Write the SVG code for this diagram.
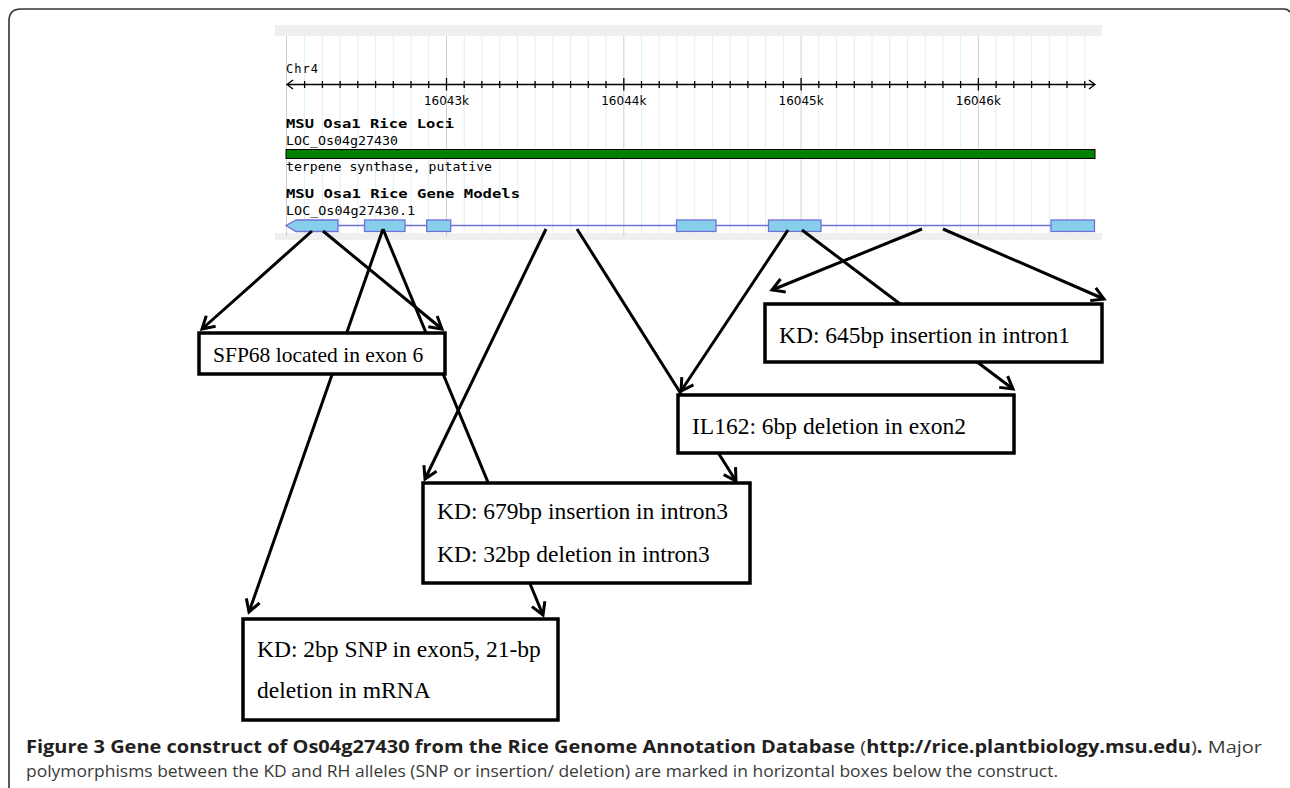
<svg xmlns="http://www.w3.org/2000/svg" width="1290" height="788" viewBox="0 0 1290 788">
<style>
.mono{font-family:"DejaVu Sans Mono","Liberation Mono",monospace;font-size:12px;fill:#000}
.monob{font-family:"DejaVu Sans Mono","Liberation Mono",monospace;font-size:12px;font-weight:bold;fill:#000}
.tick{font-family:"DejaVu Sans","Liberation Sans",sans-serif;font-size:12px;fill:#000}
.minor{stroke:#d8f1f8;stroke-width:1;fill:none}
.major{stroke:#cfcfcf;stroke-width:1;fill:none}
.conn{stroke:#000;stroke-width:3;fill:none}
.box{fill:#fff;stroke:#000;stroke-width:3.5}
.lbl{font-family:"Liberation Serif","Times New Roman",serif;font-size:23.5px;fill:#000}
.cap{font-family:"Open Sans","Liberation Sans",sans-serif;font-size:17px;fill:#3a3a3a}
.capb{font-weight:bold;fill:#231f20}
.exon{fill:#87ceeb;stroke:#7070d8;stroke-width:1.3}
</style>
<defs>
<marker id="arr" markerUnits="userSpaceOnUse" viewBox="-16 -10 20 20" markerWidth="20" markerHeight="20" refX="0" refY="0" orient="auto" overflow="visible">
<path d="M-12,-7 L0,0 L-12,7" fill="none" stroke="#000" stroke-width="3"/>
</marker>
</defs>
<!-- outer frame -->
<path d="M9 788 V21 Q9 9 21 9 H1284 Q1288 9 1290 12" fill="none" stroke="#333" stroke-width="1.6"/>
<!-- genome browser panel -->
<g id="browser">
<rect x="275" y="25" width="827" height="215" fill="#fff"/>
<rect x="275" y="25" width="827" height="11" fill="#efefef"/>
<rect x="275" y="233" width="827" height="7" fill="#efefef"/>
<path class="minor" d="M304.6 36V233M322.4 36V233M340.1 36V233M357.8 36V233M375.6 36V233M393.3 36V233M411 36V233M428.7 36V233M464.2 36V233M481.9 36V233M499.7 36V233M517.4 36V233M535.1 36V233M552.9 36V233M570.6 36V233M588.3 36V233M606 36V233M641.5 36V233M659.2 36V233M677 36V233M694.7 36V233M712.4 36V233M730.2 36V233M747.9 36V233M765.6 36V233M783.3 36V233M818.8 36V233M836.5 36V233M854.3 36V233M872 36V233M889.7 36V233M907.5 36V233M925.2 36V233M942.9 36V233M960.6 36V233M996.1 36V233M1013.8 36V233M1031.6 36V233M1049.3 36V233M1067 36V233M1084.8 36V233"/>
<path class="major" d="M286.5 36V236M446.5 36V236M623.8 36V236M801.1 36V236M978.4 36V236"/>
<!-- axis -->
<path d="M287 84.5H1095M293 80L287 84.5L293 89M1089 80L1095 84.5L1089 89" stroke="#000" stroke-width="1.3" fill="none"/>
<path stroke="#000" stroke-width="1.3" fill="none" d="M304.6 81V88M322.4 81V88M340.1 81V88M357.8 81V88M375.6 81V88M393.3 81V88M411 81V88M428.7 81V88M464.2 81V88M481.9 81V88M499.7 81V88M517.4 81V88M535.1 81V88M552.9 81V88M570.6 81V88M588.3 81V88M606 81V88M641.5 81V88M659.2 81V88M677 81V88M694.7 81V88M712.4 81V88M730.2 81V88M747.9 81V88M765.6 81V88M783.3 81V88M818.8 81V88M836.5 81V88M854.3 81V88M872 81V88M889.7 81V88M907.5 81V88M925.2 81V88M942.9 81V88M960.6 81V88M996.1 81V88M1013.8 81V88M1031.6 81V88M1049.3 81V88M1067 81V88M1084.8 81V88M446.5 78V90.5M623.8 78V90.5M801.1 78V90.5M978.4 78V90.5"/>
<text class="mono" x="286" y="73" textLength="32">Chr4</text>
<text class="tick" x="446.5" y="104.5" text-anchor="middle">16043k</text>
<text class="tick" x="623.8" y="104.5" text-anchor="middle">16044k</text>
<text class="tick" x="801.1" y="104.5" text-anchor="middle">16045k</text>
<text class="tick" x="978.4" y="104.5" text-anchor="middle">16046k</text>
<text class="monob" x="286" y="128" textLength="168" lengthAdjust="spacingAndGlyphs">MSU Osa1 Rice Loci</text>
<text class="mono" x="286" y="145" textLength="112" lengthAdjust="spacingAndGlyphs">LOC_Os04g27430</text>
<rect x="286" y="149.5" width="809" height="9" fill="#008000" stroke="#000" stroke-width="1"/>
<text class="mono" x="286" y="170.5" textLength="206" lengthAdjust="spacingAndGlyphs">terpene synthase, putative</text>
<text class="monob" x="286" y="198" textLength="234" lengthAdjust="spacingAndGlyphs">MSU Osa1 Rice Gene Models</text>
<text class="mono" x="286" y="215" textLength="129" lengthAdjust="spacingAndGlyphs">LOC_Os04g27430.1</text>
<path d="M296 225.5H1095" stroke="#7070d8" stroke-width="1.5"/>
<polygon class="exon" points="286,225.5 296,220 338,220 338,231.5 296,231.5"/>
<rect class="exon" x="364.5" y="220" width="40.5" height="11.5"/>
<rect class="exon" x="426.7" y="220" width="24" height="11.5"/>
<rect class="exon" x="676.5" y="220" width="39.5" height="11.5"/>
<rect class="exon" x="768.5" y="220" width="52.5" height="11.5"/>
<rect class="exon" x="1051" y="220" width="43.5" height="11.5"/>
</g>
<!-- connectors -->
<g id="connectors">
<line class="conn" x1="312" y1="231" x2="202" y2="329" marker-end="url(#arr)"/>
<line class="conn" x1="323" y1="231" x2="442" y2="329" marker-end="url(#arr)"/>
<line class="conn" x1="383" y1="229" x2="249" y2="612" marker-end="url(#arr)"/>
<line class="conn" x1="383" y1="229" x2="543" y2="615" marker-end="url(#arr)"/>
<line class="conn" x1="546" y1="229" x2="425" y2="479" marker-end="url(#arr)"/>
<line class="conn" x1="577" y1="229" x2="736" y2="481" marker-end="url(#arr)"/>
<line class="conn" x1="788" y1="230" x2="681" y2="391" marker-end="url(#arr)"/>
<line class="conn" x1="802" y1="230" x2="1013" y2="389" marker-end="url(#arr)"/>
<line class="conn" x1="922" y1="229" x2="772" y2="290" marker-end="url(#arr)"/>
<line class="conn" x1="943" y1="229" x2="1104" y2="299" marker-end="url(#arr)"/>
</g>
<!-- nodes -->
<g id="n-sfp68">
<rect class="box" x="199" y="333" width="246" height="41"/>
<text class="lbl" x="213" y="362" style="font-size:21.5px">SFP68 located in exon 6</text>
</g>
<g id="n-kd645">
<rect class="box" x="765" y="304" width="337" height="58"/>
<text class="lbl" x="779" y="343">KD: 645bp insertion in intron1</text>
</g>
<g id="n-il162">
<rect class="box" x="678" y="395" width="336" height="58"/>
<text class="lbl" x="692" y="433.5">IL162: 6bp deletion in exon2</text>
</g>
<g id="n-kd679">
<rect class="box" x="423" y="483" width="327" height="100"/>
<text class="lbl" x="437" y="518.5">KD: 679bp insertion in intron3</text>
<text class="lbl" x="437" y="561.5">KD: 32bp deletion in intron3</text>
</g>
<g id="n-kd2bp">
<rect class="box" x="243" y="619" width="315" height="101"/>
<text class="lbl" x="257" y="657">KD: 2bp SNP in exon5, 21-bp</text>
<text class="lbl" x="257" y="698">deletion in mRNA</text>
</g>
<!-- caption -->
<g id="caption">
<text class="cap" x="26" y="753" textLength="1236" lengthAdjust="spacingAndGlyphs"><tspan class="capb">Figure 3 Gene construct of Os04g27430 from the Rice Genome Annotation Database</tspan> (<tspan class="capb">http://rice.plantbiology.msu.edu</tspan>)<tspan class="capb">.</tspan> Major</text>
<text class="cap" x="26" y="777" textLength="1032" lengthAdjust="spacingAndGlyphs">polymorphisms between the KD and RH alleles (SNP or insertion/ deletion) are marked in horizontal boxes below the construct.</text>
</g>
</svg>
